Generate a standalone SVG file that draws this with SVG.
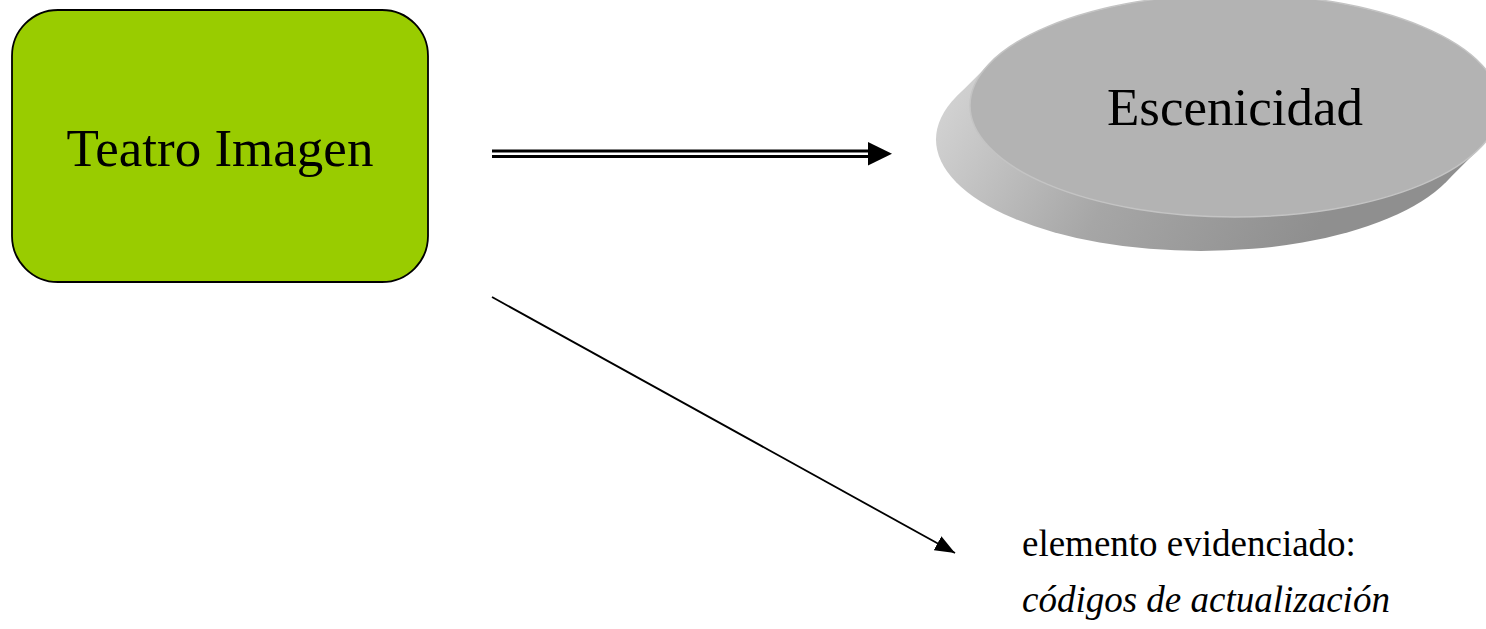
<svg xmlns="http://www.w3.org/2000/svg" width="1486" height="629" viewBox="0 0 1486 629">
<style>
.t{font-family:"Liberation Serif","Times New Roman",serif;fill:#000}
.conn{fill:none;stroke:#000}
</style>
<defs>
<linearGradient id="ext" gradientUnits="userSpaceOnUse" x1="960" y1="60" x2="1300" y2="260">
<stop offset="0" stop-color="#d4d4d4"/>
<stop offset="0.5" stop-color="#a6a6a6"/>
<stop offset="1" stop-color="#8f8f8f"/>
</linearGradient>
<marker id="ah" markerUnits="userSpaceOnUse" viewBox="0 0 20 16" refX="20" refY="8" markerWidth="20" markerHeight="16" orient="auto">
<path d="M0 0 L20 8 L0 16 Z" fill="#000"/>
</marker>
</defs>
<rect width="1486" height="629" fill="#fff"/>
<g id="teatro-imagen">
<rect x="12" y="10" width="416" height="272" rx="46" ry="46" fill="#99cc00" stroke="#000" stroke-width="1.8"/>
<text class="t" x="220" y="166" font-size="53" text-anchor="middle">Teatro Imagen</text>
</g>
<g id="escenicidad">
<ellipse cx="1201" cy="139.5" rx="265" ry="111.5" fill="url(#ext)"/>
<polygon points="990.7,62.4 956.7,96.4 1445.3,182.6 1479.3,148.6" fill="url(#ext)"/>
<ellipse cx="1235" cy="105.5" rx="265" ry="111.5" fill="#b3b3b3" stroke="#c4c4c4" stroke-width="1.5"/>
<text class="t" x="1235" y="125" font-size="53" text-anchor="middle">Escenicidad</text>
</g>
<g id="connectors">
<line class="conn" x1="492" y1="153.8" x2="869" y2="153.8" stroke-width="8.5"/>
<line x1="490" y1="153.8" x2="870" y2="153.8" stroke="#fff" stroke-width="2.6"/>
<path d="M868 142 L892 153.8 L868 165.5 Z" fill="#000"/>
<line class="conn" x1="492" y1="297" x2="955" y2="553" stroke-width="1.8" marker-end="url(#ah)"/>
</g>
<g id="label">
<text class="t" x="1022" y="556" font-size="37">elemento evidenciado:</text>
<text class="t" x="1022" y="612" font-size="37" font-style="italic">códigos de actualización</text>
</g>
</svg>
